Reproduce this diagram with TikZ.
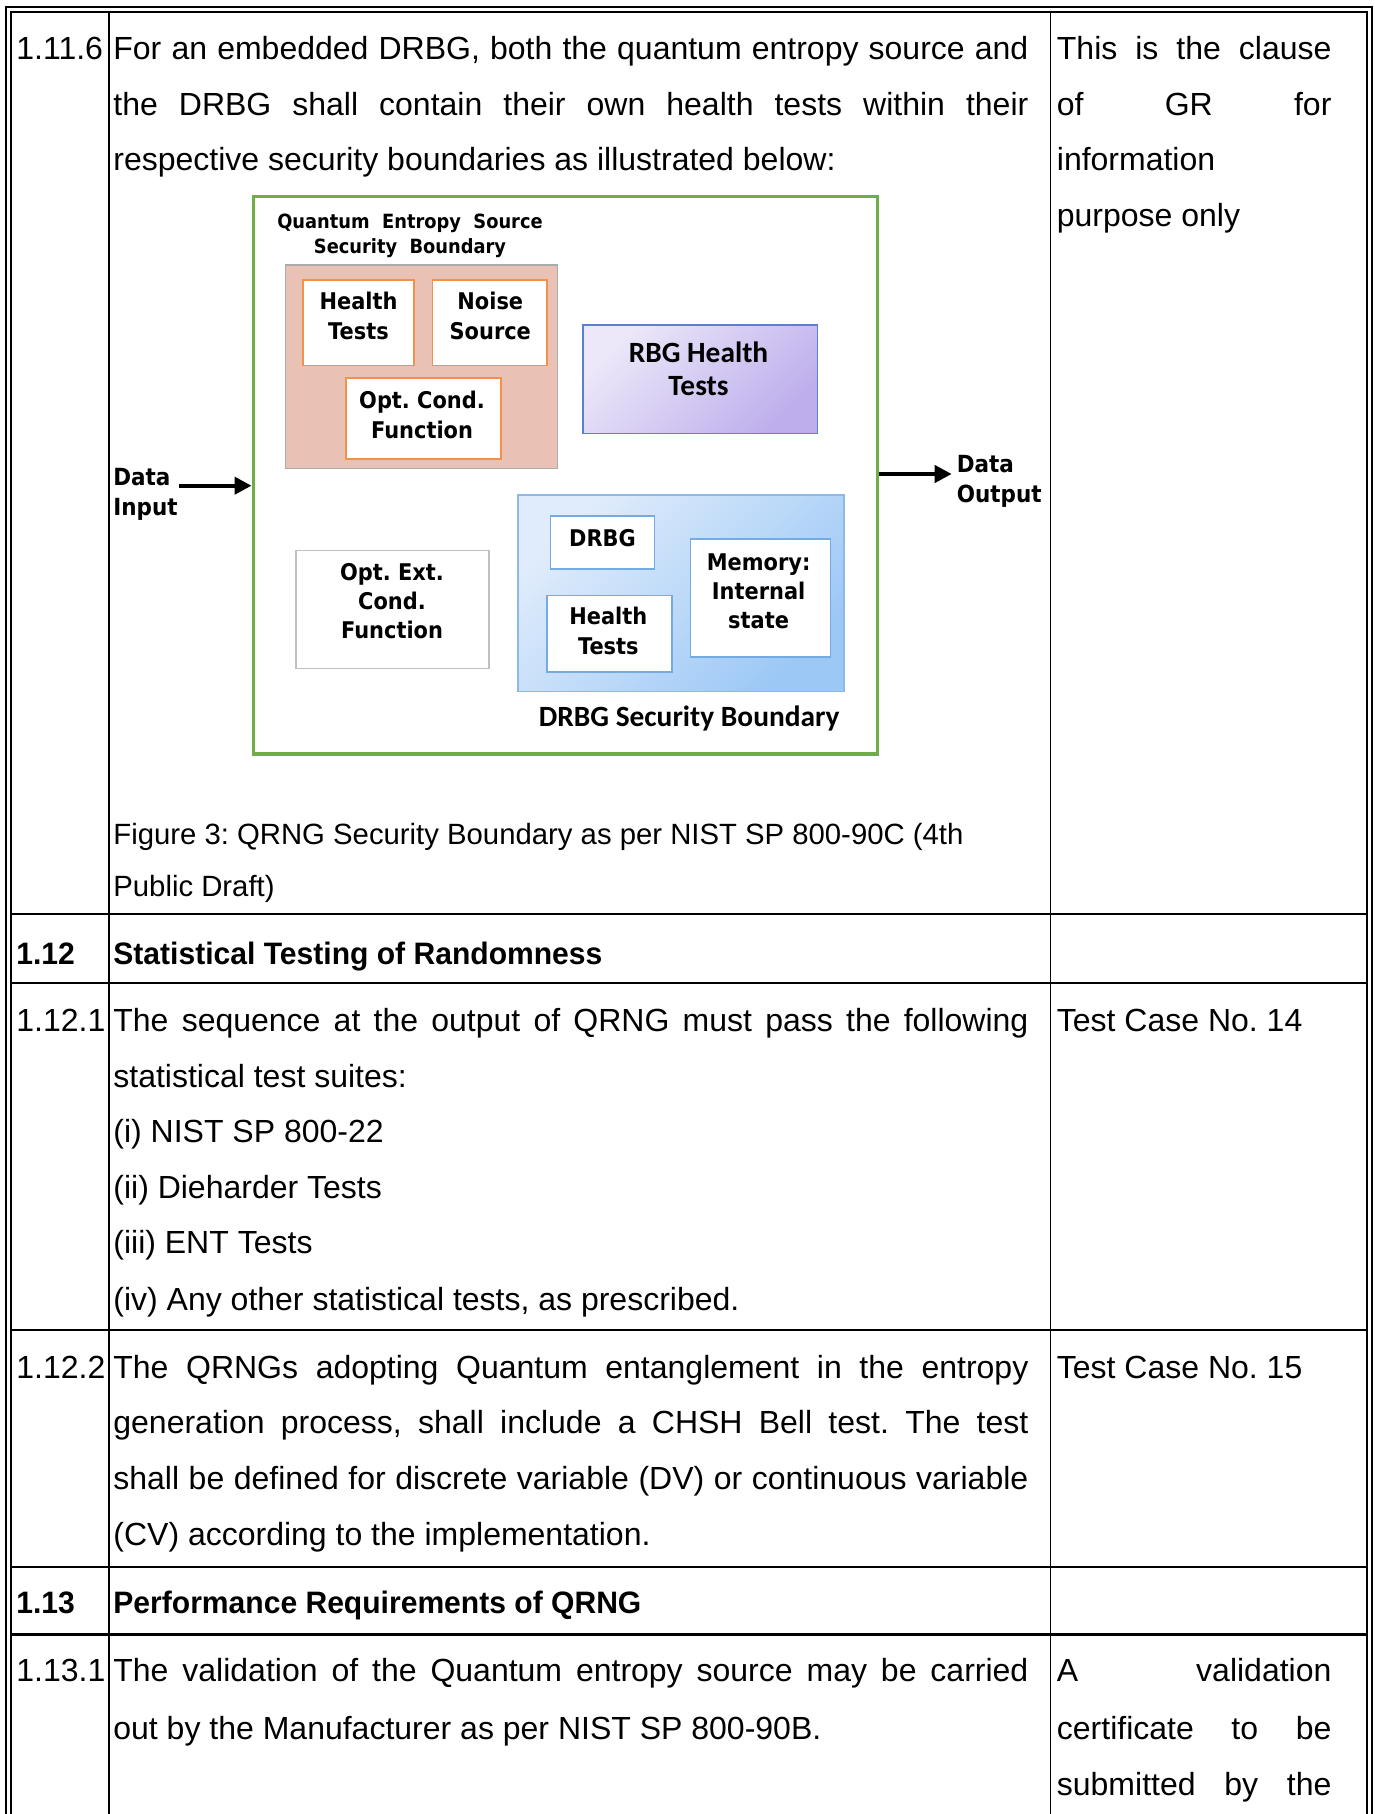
\documentclass[tikz,border=0pt]{standalone}
\usepackage{fontspec}
\setmainfont{Liberation Sans}[BoldFeatures={FakeStretch=0.97}]
\newfontfamily\figfont{DejaVu Sans}[FakeStretch=0.91]
\newfontfamily\calfont{Carlito}
\usetikzlibrary{arrows.meta}

\definecolor{bgreen}{HTML}{70AD47}
\definecolor{qpink}{HTML}{EAC1B5}
\definecolor{qgray}{HTML}{ABABAB}
\definecolor{qorange}{HTML}{F2914A}
\definecolor{rbgtop}{HTML}{ECE8F9}
\definecolor{rbgbot}{HTML}{BEAEEC}
\definecolor{rbgline}{HTML}{5B7FD4}
\definecolor{dtop}{HTML}{E0ECFB}
\definecolor{dbot}{HTML}{9CC8F6}
\definecolor{dline}{HTML}{8DB9EA}
\definecolor{dbox}{HTML}{74ABE3}
\definecolor{egray}{HTML}{BFBFBF}

% justified lines of the two text columns
\newcommand{\jst}[1]{\makebox[457.5pt][s]{#1}}
\newcommand{\rjst}[1]{\makebox[137.25pt][s]{#1}}

\tikzset{
  txt/.style={anchor=base west, inner sep=0pt, font=\fontsize{16}{18}\selectfont},
  captxt/.style={txt, font=\fontsize{14.65}{18}\selectfont},
  hd/.style={txt, font=\fontsize{15.5}{18}\selectfont\bfseries},
  box/.style={draw, rectangle, inner sep=0pt, line width=0.8pt},
  lbl/.style={inner sep=0pt, align=center, font=\figfont\bfseries\fontsize{11.5}{15}\selectfont},
  clbl/.style={inner sep=0pt, align=center, font=\calfont\bfseries\fontsize{14.7}{16.2}\selectfont},
  arr/.style={line width=2pt, -{Triangle[length=8.5pt,width=8.5pt]}}
}

\begin{document}
\frenchspacing
\begin{tikzpicture}[x=0.5pt,y=-0.5pt]
        \useasboundingbox (0,0) rectangle (1375,1814);
        % table frame
        \draw[line width=1.1pt] (5.8,1814) -- (5.8,7) -- (1372.3,7) -- (1372.3,1814);
        \draw[line width=1pt] (10.8,1814) -- (10.8,12) -- (1366.7,12) -- (1366.7,1814);
        \draw[line width=0.85pt] (108.7,12) -- (108.7,1814);
        \draw[line width=0.85pt] (1050.6,12) -- (1050.6,1814);
        \foreach \y in {913.6,983,1330,1567,1634.5}
            \draw[line width=1.1pt] (10.8,\y) -- (1366.7,\y);

        % row 1.11.6
        \node (c1) [txt] at (16,59.5) {1.11.6};
        \node (b1a) [txt] at (113,59.5) {\jst{For an embedded DRBG, both the quantum entropy source and}};
        \node (b1b) [txt] at (113,115.2) {\jst{the DRBG shall contain their own health tests within their}};
        \node (b1c) [txt] at (113,170.9) {respective security boundaries as illustrated below:};
        \node (cap1) [captxt] at (113,844) {Figure 3: QRNG Security Boundary as per NIST SP 800-90C (4th};
        \node (cap2) [captxt] at (113,896) {Public Draft)};
        \node (r1a) [txt] at (1056.5,59.5) {\rjst{This is the clause}};
        \node (r1b) [txt] at (1056.5,115.2) {\rjst{of GR for}};
        \node (r1c) [txt] at (1056.5,170.9) {information};
        \node (r1d) [txt] at (1056.5,226.6) {purpose only};

        % figure 3
        \node (green) [box, draw=bgreen, line width=1.75pt, minimum width=312.2pt, minimum height=278.7pt] at (565.5,475.3) {};
        \node (qes) [box, draw=qgray, fill=qpink, minimum width=135.9pt, minimum height=101.75pt] at (421.5,366.55) {};
        \node (qesl) [lbl, font=\figfont\bfseries\fontsize{9.8}{12.7}\selectfont] at (410,236) {Quantum~ Entropy~ Source\\Security~ Boundary};
        \node (ht1) [box, draw=qorange, fill=white, minimum width=55.5pt, minimum height=42.7pt] at (358.5,322.7) {};
        \node (ns) [box, draw=qorange, fill=white, minimum width=57.25pt, minimum height=42.7pt] at (489.75,322.7) {};
        \node (ocf) [box, draw=qorange, fill=white, minimum width=77.45pt, minimum height=40.45pt] at (423.25,418.55) {};
        \node (ht1l) [lbl] at (358.5,315.7) {Health\\Tests};
        \node (nsl) [lbl] at (490.3,315.7) {Noise\\Source};
        \node (ocfl) [lbl] at (422,414.6) {Opt. Cond.\\Function};

        \node (rbg) [box, draw=rbgline, top color=rbgtop, bottom color=rbgbot, shading angle=45, minimum width=117.4pt, minimum height=54.3pt] at (700.2,379.3) {};
        \node (rbgl) [clbl] at (698.5,368.9) {RBG Health\\Tests};

        \node (oext) [box, draw=egray, fill=white, minimum width=96.6pt, minimum height=59pt] at (392.6,609.4) {};
        \node (oextl) [lbl, font=\figfont\bfseries\fontsize{11.5}{14.5}\selectfont] at (392,601.3) {Opt. Ext.\\Cond.\\Function};

        \node (drbgb) [box, draw=dline, top color=dtop, bottom color=dbot, shading angle=45, minimum width=163.1pt, minimum height=98.25pt] at (681.1,593.25) {};
        \node (drbg) [box, draw=dbox, fill=white, minimum width=52.05pt, minimum height=26.6pt] at (602.45,542.4) {};
        \node (ht2) [box, draw=dbox, fill=white, minimum width=62.45pt, minimum height=38.2pt] at (609.45,633.7) {};
        \node (mem) [box, draw=dbox, fill=white, minimum width=69.95pt, minimum height=58.95pt] at (760.35,597.85) {};
        \node (drbgl) [lbl] at (602.5,538.5) {DRBG};
        \node (ht2l) [lbl] at (608.3,630.8) {Health\\Tests};
        \node (meml) [lbl, font=\figfont\bfseries\fontsize{11.5}{14.5}\selectfont] at (758.6,590.9) {Memory:\\Internal\\state};
        \node (drbgbl) [clbl] at (689.2,718) {DRBG Security Boundary};

        \coordinate (din) at (179,485.7);
        \coordinate (dout) at (951.7,474);
        \draw[arr] (din) -- (din -| green.west);
        \draw[arr] (green.east |- dout) -- (dout);
        \node (dinl) [lbl, align=left, anchor=west, font=\figfont\bfseries\fontsize{11.8}{15}\selectfont] at (113,494) {Data\\Input};
        \node (doutl) [lbl, align=left, anchor=west, font=\figfont\bfseries\fontsize{11.8}{15}\selectfont] at (956.4,481.5) {Data\\Output};

        % row 1.12
        \node (c2) [hd] at (16,964) {1.12};
        \node (b2) [hd] at (113,964) {Statistical Testing of Randomness};

        % row 1.12.1
        \node (c3) [txt] at (16,1031.5) {1.12.1};
        \node (b3a) [txt] at (113,1031.5) {\jst{The sequence at the output of QRNG must pass the following}};
        \node (b3b) [txt] at (113,1087.1) {statistical test suites:};
        \node (b3c) [txt] at (113,1142.7) {(i) NIST SP 800-22};
        \node (b3d) [txt] at (113,1198.3) {(ii) Dieharder Tests};
        \node (b3e) [txt] at (113,1253.9) {(iii) ENT Tests};
        \node (b3f) [txt] at (113,1310) {(iv) Any other statistical tests, as prescribed.};
        \node (r3) [txt] at (1056.5,1031.5) {Test Case No. 14};

        % row 1.12.2
        \node (c4) [txt] at (16,1378) {1.12.2};
        \node (b4a) [txt] at (113,1378) {\jst{The QRNGs adopting Quantum entanglement in the entropy}};
        \node (b4b) [txt] at (113,1433.8) {\jst{generation process, shall include a CHSH Bell test. The test}};
        \node (b4c) [txt] at (113,1489.8) {\jst{shall be defined for discrete variable (DV) or continuous variable}};
        \node (b4d) [txt] at (113,1545.6) {(CV) according to the implementation.};
        \node (r4) [txt] at (1056.5,1378) {Test Case No. 15};

        % row 1.13
        \node (c5) [hd] at (16,1613.5) {1.13};
        \node (b5) [hd] at (113,1613.5) {Performance Requirements of QRNG};

        % row 1.13.1
        \node (c6) [txt] at (16,1681.5) {1.13.1};
        \node (b6a) [txt] at (113,1681.5) {\jst{The validation of the Quantum entropy source may be carried}};
        \node (b6b) [txt] at (113,1739.5) {out by the Manufacturer as per NIST SP 800-90B.};
        \node (r6a) [txt] at (1056.5,1681.5) {\rjst{A validation}};
        \node (r6b) [txt] at (1056.5,1739.5) {\rjst{certificate to be}};
        \node (r6c) [txt] at (1056.5,1795.5) {\rjst{submitted by the}};
\end{tikzpicture}
\end{document}
